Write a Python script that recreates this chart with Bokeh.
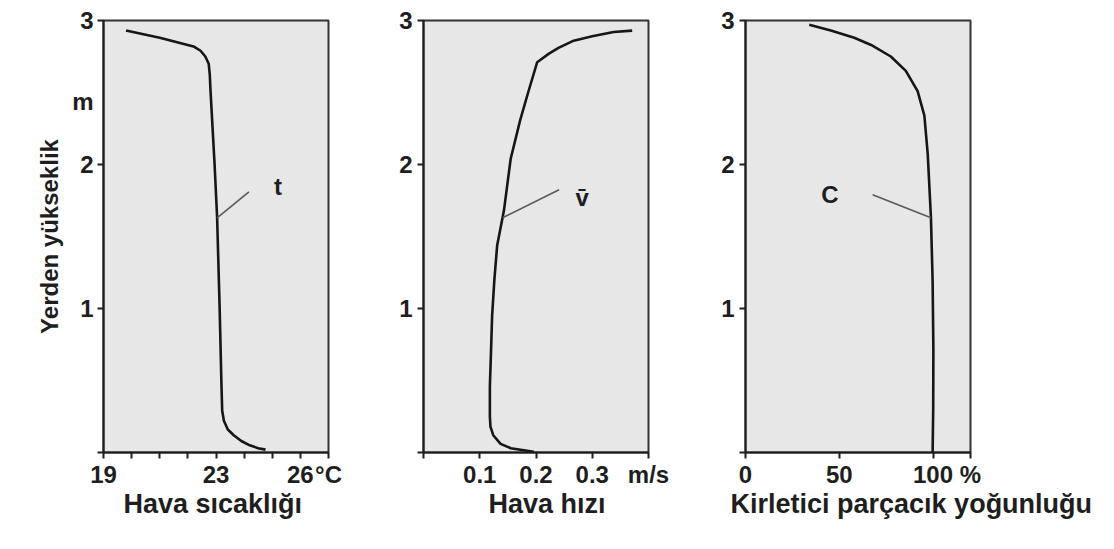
import numpy as np
from bokeh.plotting import figure
from bokeh.layouts import row
from bokeh.models import FixedTicker, Range1d, LinearAxis, Title
from bokeh.core.properties import value
from bokeh.embed import file_html
from bokeh.resources import INLINE

# ---------------- data ----------------
height_ticks = [0, 1, 2, 3]
height_labels = {0: "", 1: "1", 2: "2", 3: "3"}
unit_height = 2.44          # where the "m" unit sits on the first height axis
height_labels_unit = {1: "1", 2: "2", 2.44: "m", 3: "3"}

# Panel 1: air temperature (°C) vs height (m)
temp_height = [2.93, 2.88, 2.82, 2.79, 2.75, 2.70, 2.62, 2.53, 2.00, 1.63,
               1.00, 0.50, 0.29, 0.22, 0.16, 0.12, 0.08, 0.05, 0.03, 0.02]
temp_values = [19.8, 21.0, 22.2, 22.45, 22.62, 22.74, 22.78, 22.80, 22.95, 23.04,
               23.13, 23.19, 23.22, 23.28, 23.42, 23.63, 23.90, 24.20, 24.50, 24.76]
temp_ticks = [19, 20, 21, 22, 23, 24, 25, 26, 27]
temp_tick_labels = {19: "19", 20: "", 21: "", 22: "", 23: "23", 24: "", 25: "", 26: "26", 27: "°C"}

# Panel 2: air speed (m/s) vs height (m)
speed_height = [2.93, 2.92, 2.89, 2.86, 2.81, 2.77, 2.71, 2.50, 2.31, 2.04, 1.68,
                1.44, 1.20, 0.95, 0.70, 0.46, 0.25, 0.18, 0.12, 0.06, 0.03, 0.005]
speed_values = [0.371, 0.338, 0.300, 0.267, 0.240, 0.223, 0.202, 0.186, 0.172, 0.155, 0.143,
                0.131, 0.126, 0.122, 0.120, 0.118, 0.118, 0.119, 0.124, 0.137, 0.155, 0.196]
speed_ticks = [0, 0.1, 0.2, 0.3, 0.4]
speed_tick_labels = {0: "", 0.1: "0.1", 0.2: "0.2", 0.3: "0.3", 0.4: "m/s"}

# Panel 3: pollutant concentration (%) vs height (m)
conc_height = [2.97, 2.93, 2.88, 2.83, 2.75, 2.65, 2.51, 2.34, 2.07, 1.63, 1.19, 0.71, 0.30, 0.0]
conc_values = [34.0, 45.5, 58.0, 67.0, 77.5, 85.5, 91.8, 95.4, 97.2, 98.9, 99.8, 100.2, 100.1, 99.8]
conc_ticks = [0, 50, 100, 120]
conc_tick_labels = {0: "0", 50: "50", 100: "100", 120: "%"}

# ---------------- style ----------------
FONT = "Liberation Sans"
TICK_SIZE = "24px"
TITLE_SIZE = "27px"
BG = "#e7e7e7"
INK = "#1e1e1e"
CURVE = "#161616"
LEADER = "#5a5a5a"
STANDOFF = 2
LEADER_H = 1.63


def style_axis(ax):
    ax.axis_line_color = INK
    ax.axis_line_width = 2
    ax.major_tick_line_color = INK
    ax.major_tick_line_width = 2
    ax.major_tick_in = 0
    ax.major_tick_out = 6
    ax.minor_tick_line_color = None
    ax.major_label_text_font = FONT
    ax.major_label_text_font_style = "bold"
    ax.major_label_text_font_size = TICK_SIZE
    ax.major_label_text_color = INK


def make_panel(width, left, right, xr, xticks, xlabels, title, title_offset):
    p = figure(width=width, height=545, x_range=xr, y_range=Range1d(0, 3),
               output_backend="svg", toolbar_location=None,
               min_border_left=left, min_border_right=right,
               min_border_top=20, min_border_bottom=93)
    p.background_fill_color = BG
    p.border_fill_color = "white"
    p.outline_line_color = "#333333"
    p.outline_line_width = 2
    p.grid.visible = False
    style_axis(p.xaxis[0])
    style_axis(p.yaxis[0])
    p.xaxis.major_label_standoff = STANDOFF
    p.xaxis.ticker = FixedTicker(ticks=xticks)
    p.xaxis.major_label_overrides = xlabels
    p.yaxis.ticker = FixedTicker(ticks=height_ticks)
    p.yaxis.major_label_overrides = height_labels
    p.yaxis.major_label_standoff = 5
    p.add_layout(Title(text=title, align="left", offset=title_offset, standoff=-7,
                       text_font=FONT, text_font_style="bold", text_font_size=TITLE_SIZE,
                       text_color=INK), "below")
    return p


def lbl(p, x, y, text):
    p.text(x=[x], y=[y], text=[text], text_font=value(FONT), text_font_style="bold",
           text_font_size=TICK_SIZE, text_color=INK, text_align="center",
           text_baseline="alphabetic")


def leader(p, xs, ys, x_end, y_end):
    x0 = float(np.interp(LEADER_H, ys[::-1], xs[::-1]))
    p.line([x0, x_end], [LEADER_H, y_end], line_color=LEADER, line_width=1.6)


# Panel 1
p1 = make_panel(348, 103, 20, Range1d(19, 27), temp_ticks, temp_tick_labels, "Hava sıcaklığı", 20)
# inner axis: tick marks only; outer axis: labels (incl. unit "m") and title
p1.yaxis[0].major_label_overrides = {0: "", 1: "", 2: "", 3: ""}
p1.yaxis[0].major_label_standoff = 0
p1.yaxis[0].major_label_text_font_size = "1px"
outer = LinearAxis(ticker=FixedTicker(ticks=[1, 2, unit_height, 3]),
                   major_label_overrides=height_labels_unit)
style_axis(outer)
outer.axis_line_color = None
outer.major_tick_line_color = None
outer.major_tick_out = 0
outer.major_label_standoff = 4
outer.axis_label = "Yerden yükseklik"
outer.axis_label_text_font = FONT
outer.axis_label_text_font_style = "bold"
outer.axis_label_text_font_size = "24px"
outer.axis_label_text_color = INK
outer.axis_label_standoff = 6
p1.add_layout(outer, "left")
p1.line(temp_values, temp_height, line_color=CURVE, line_width=2.6)
leader(p1, temp_values, temp_height, 24.17, 1.81)
lbl(p1, 25.2, 1.85, "t")

# Panel 2
p2 = make_panel(330, 75, 30, Range1d(0, 0.4), speed_ticks, speed_tick_labels, "Hava hızı", 65)
p2.line(speed_values, speed_height, line_color=CURVE, line_width=2.6)
leader(p2, speed_values, speed_height, 0.241, 1.825)
lbl(p2, 0.282, 1.77, "v\u0304")

# Panel 3
p3 = make_panel(432, 67, 140, Range1d(0, 120), conc_ticks, conc_tick_labels,
                "Kirletici parçacık yoğunluğu", -15)
p3.line(conc_values, conc_height, line_color=CURVE, line_width=2.6)
leader(p3, conc_values, conc_height, 67.8, 1.79)
lbl(p3, 45, 1.79, "C")

layout = row(p1, p2, p3)
open("out.html", "w").write(file_html(layout, INLINE))
